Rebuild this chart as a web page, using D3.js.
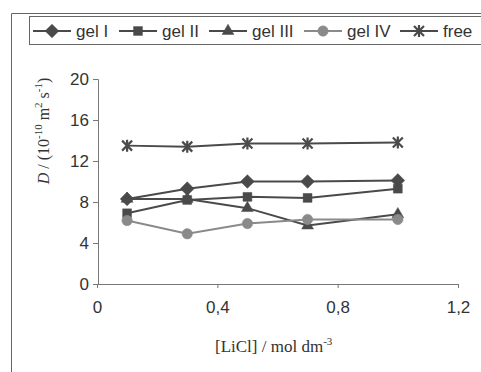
<!DOCTYPE html>
<html>
<head>
<meta charset="utf-8">
<script src="https://cdn.jsdelivr.net/npm/d3@7"></script>
<style>
  body { margin: 0; background: #fff; }
  svg { display: block; }
</style>
</head>
<body>
<svg id="chart" width="481" height="372"></svg>
<script>
// LiCl concentration (mol dm-3)
const conc = [0.1, 0.3, 0.5, 0.7, 1.0];
const gelI = [8.3, 9.3, 10.0, 10.0, 10.1];
const gelII = [6.9, 8.2, 8.5, 8.4, 9.3];
const gelIII = [8.3, 8.3, 7.4, 5.7, 6.8];
const gelIV = [6.2, 4.9, 5.9, 6.3, 6.3];
const free = [13.5, 13.4, 13.7, 13.7, 13.8];
const xTicks = [0, 0.4, 0.8, 1.2];
const yTicks = [0, 4, 8, 12, 16, 20];

const series = [
  { name: 'gel I', values: gelI, shape: 'diamond', color: '#4a4a4a' },
  { name: 'gel II', values: gelII, shape: 'square', color: '#4a4a4a' },
  { name: 'gel III', values: gelIII, shape: 'triangle', color: '#4a4a4a' },
  { name: 'gel IV', values: gelIV, shape: 'circle', color: '#8a8a8a' },
  { name: 'free', values: free, shape: 'star', color: '#4a4a4a' }
];

const svg = d3.select('#chart');
const sans = 'Liberation Sans, Arial, sans-serif';
const serif = 'Liberation Serif, Times New Roman, serif';

// outer chart frame (runs off the right edge)
svg.append('path')
  .attr('d', 'M11.5,372 V13.5 H481')
  .attr('fill', 'none').attr('stroke', '#666').attr('stroke-width', 1);

const x = d3.scaleLinear().domain([0, 1.2]).range([97, 458]);
const y = d3.scaleLinear().domain([0, 20]).range([284, 79]);

const axisColor = '#777';

const gx = svg.append('g')
  .attr('transform', `translate(0,${y(0)})`)
  .call(d3.axisBottom(x).tickValues(xTicks).tickSize(4)
    .tickFormat(d => d3.format('.1~f')(d).replace('.', ',')));
const gy = svg.append('g')
  .attr('transform', `translate(${x(0) + 1},0)`)
  .call(d3.axisLeft(y).tickValues(yTicks).tickSize(5));

[gx, gy].forEach(g => {
  g.select('.domain').attr('stroke', axisColor);
  g.selectAll('.tick line').attr('stroke', axisColor);
  g.selectAll('.tick text')
    .attr('fill', '#333').style('font-family', sans).style('font-size', '17px');
});
gx.selectAll('.tick text').attr('dy', '1.3em');
gy.selectAll('.tick text').attr('x', -9);

// axis titles
const xt = svg.append('text')
  .attr('x', 215).attr('y', 352)
  .style('font-family', serif).style('font-size', '17px').attr('fill', '#333');
xt.append('tspan').text('[LiCl] / mol dm');
xt.append('tspan').attr('dy', -7).style('font-size', '11px').text('-3');

const yt = svg.append('text')
  .attr('transform', 'translate(49,131) rotate(-90)')
  .attr('text-anchor', 'middle')
  .style('font-family', serif).style('font-size', '16px').attr('fill', '#333');
yt.append('tspan').style('font-style', 'italic').text('D');
yt.append('tspan').text(' / (10');
yt.append('tspan').attr('dy', -7).style('font-size', '11px').text('-10');
yt.append('tspan').attr('dy', 7).text(' m');
yt.append('tspan').attr('dy', -7).style('font-size', '11px').text('2');
yt.append('tspan').attr('dy', 7).text(' s');
yt.append('tspan').attr('dy', -7).style('font-size', '11px').text('-1');
yt.append('tspan').attr('dy', 7).text(')');

function marker(g, shape, color) {
  if (shape === 'star') {
    g.append('path')
      .attr('d', 'M-5,-5L5,5M-5,5L5,-5M0,-6V6')
      .attr('stroke', color).attr('stroke-width', 2.2).attr('fill', 'none');
    return;
  }
  const sym = {
    diamond: d3.symbol(d3.symbolDiamond2, 120),
    square: d3.symbol(d3.symbolSquare2, 100),
    triangle: d3.symbol(d3.symbolTriangle2, 100),
    circle: d3.symbol(d3.symbolCircle, 85)
  }[shape];
  g.append('path').attr('d', sym()).attr('fill', color).attr('stroke', color).attr('stroke-width', 0.5);
}

const line = d3.line().x((d, i) => x(conc[i])).y(d => y(d));

series.forEach(s => {
  svg.append('path')
    .datum(s.values)
    .attr('d', line)
    .attr('fill', 'none')
    .attr('stroke', s.color)
    .attr('stroke-width', 2);
});
series.forEach(s => {
  s.values.forEach((v, i) => {
    const g = svg.append('g').attr('transform', `translate(${x(conc[i])},${y(v)})`);
    marker(g, s.shape, s.color);
  });
});

// legend
svg.append('rect')
  .attr('x', 29.5).attr('y', 16.5).attr('width', 470).attr('height', 28)
  .attr('fill', 'none').attr('stroke', '#666');
const legendX = [33, 119, 209, 304, 400];
series.forEach((s, i) => {
  const g = svg.append('g').attr('transform', `translate(${legendX[i]},31)`);
  g.append('line').attr('x1', 0).attr('x2', 38).attr('stroke', s.color).attr('stroke-width', 2);
  const m = g.append('g').attr('transform', 'translate(19,0)');
  marker(m, s.shape, s.color);
  g.append('text').attr('x', 43).attr('y', 6)
    .style('font-family', sans).style('font-size', '17px').attr('fill', '#333')
    .text(s.name);
});
</script>
</body>
</html>
